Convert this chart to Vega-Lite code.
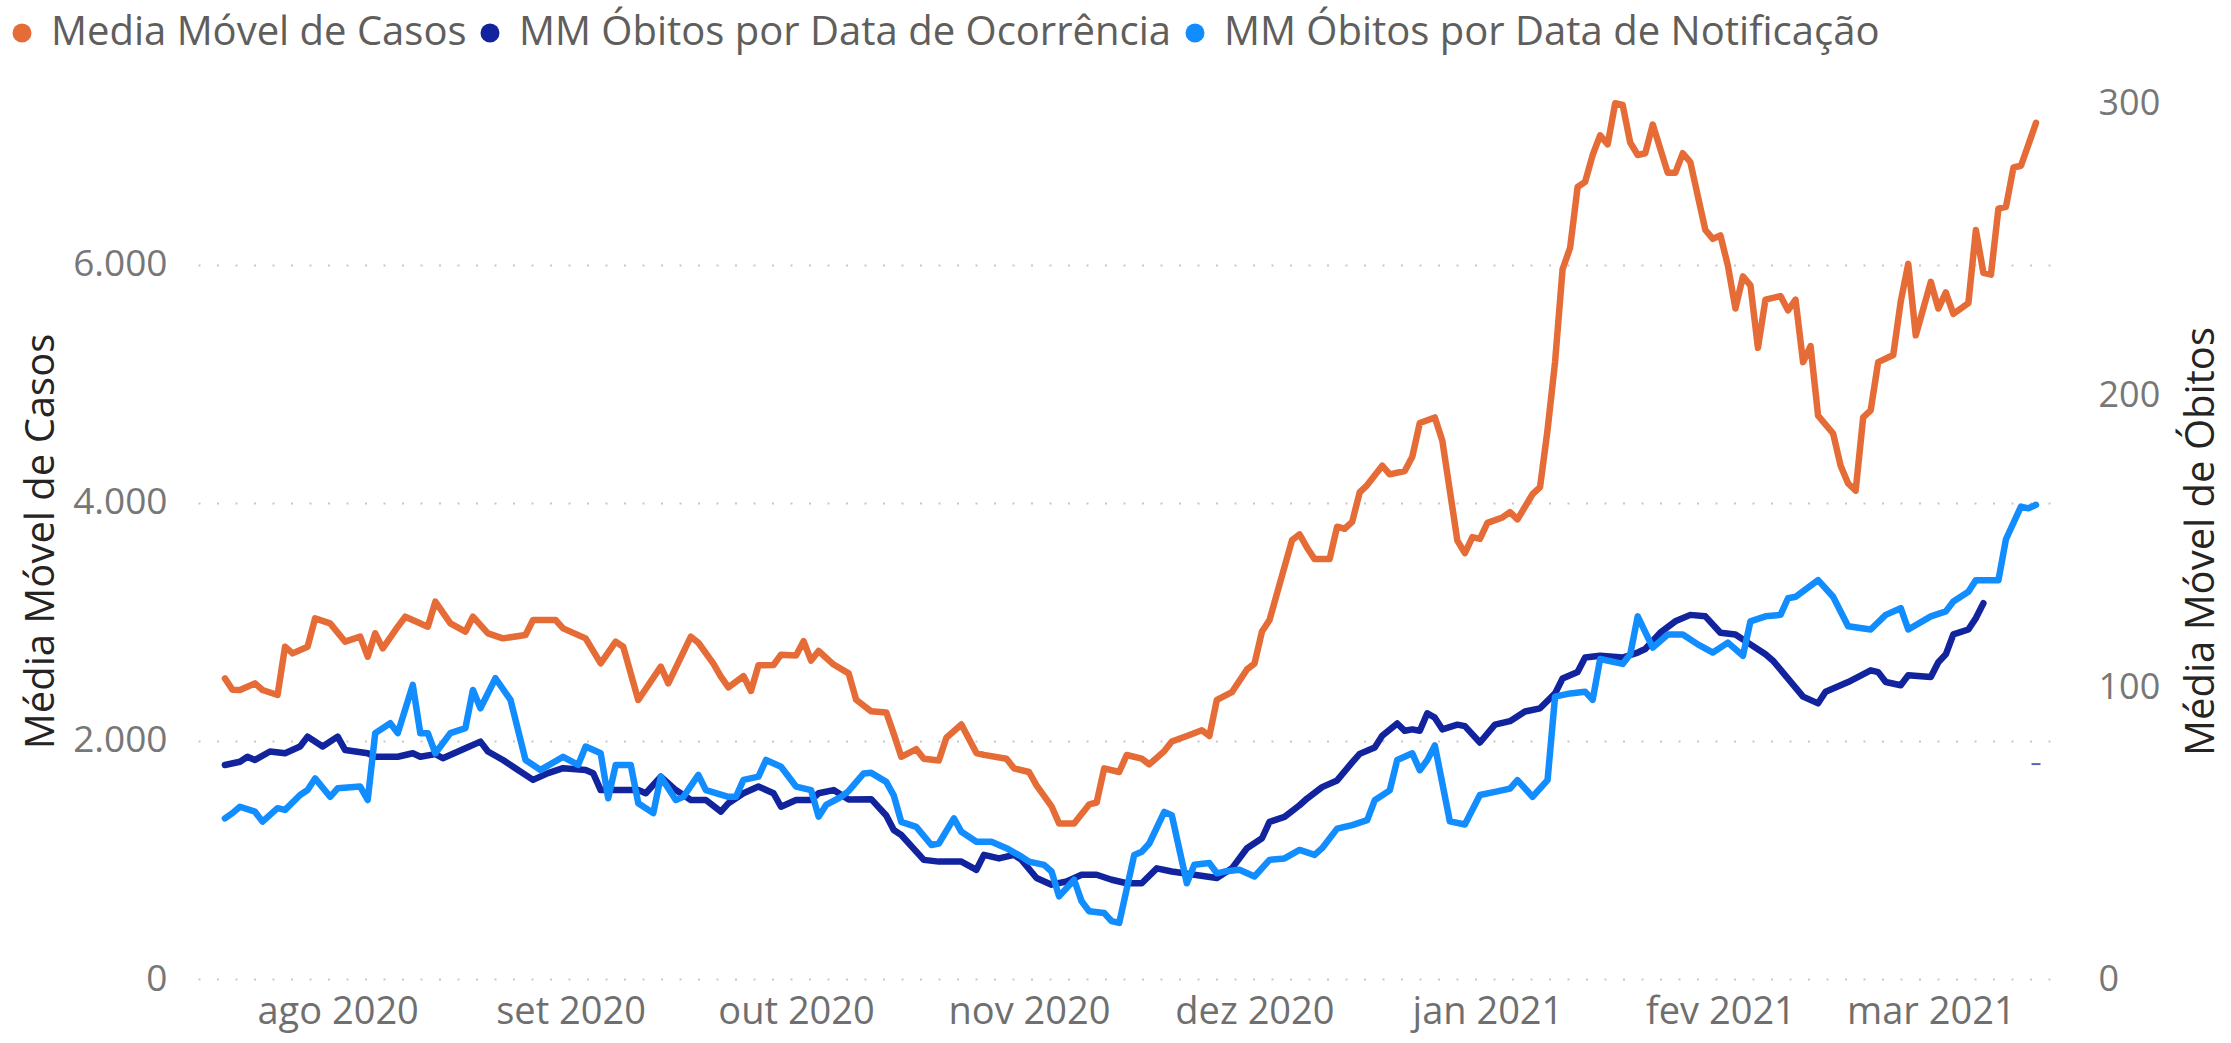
{
"$schema": "https://vega.github.io/schema/vega-lite/v6.json",
"autosize": {"type": "none"},
"padding": {"left": 198, "top": 103, "right": 169, "bottom": 64},
"width": 1864,
"height": 876,
"background": "white",
"config": {"view": {"stroke": null}, "font": "Open Sans"},
"datasets": {
"casos": [
{"d":"2020-07-17","v":2526},{"d":"2020-07-18","v":2430},{"d":"2020-07-19","v":2428},{"d":"2020-07-21","v":2484},{"d":"2020-07-22","v":2428},{"d":"2020-07-24","v":2386},{"d":"2020-07-25","v":2792},{"d":"2020-07-26","v":2736},{"d":"2020-07-28","v":2792},{"d":"2020-07-29","v":3030},{"d":"2020-07-31","v":2988},
{"d":"2020-08-02","v":2834},{"d":"2020-08-04","v":2876},{"d":"2020-08-05","v":2708},{"d":"2020-08-06","v":2904},{"d":"2020-08-07","v":2778},{"d":"2020-08-09","v":2960},{"d":"2020-08-10","v":3044},{"d":"2020-08-13","v":2960},{"d":"2020-08-14","v":3170},{"d":"2020-08-16","v":2988},{"d":"2020-08-18","v":2918},{"d":"2020-08-19","v":3044},{"d":"2020-08-21","v":2904},{"d":"2020-08-23","v":2862},{"d":"2020-08-26","v":2890},{"d":"2020-08-27","v":3016},{"d":"2020-08-30","v":3016},{"d":"2020-08-31","v":2946},
{"d":"2020-09-03","v":2862},{"d":"2020-09-05","v":2652},{"d":"2020-09-07","v":2834},{"d":"2020-09-08","v":2792},{"d":"2020-09-10","v":2344},{"d":"2020-09-13","v":2624},{"d":"2020-09-14","v":2484},{"d":"2020-09-17","v":2876},{"d":"2020-09-18","v":2825},{"d":"2020-09-20","v":2650},{"d":"2020-09-21","v":2540},{"d":"2020-09-22","v":2450},{"d":"2020-09-24","v":2545},{"d":"2020-09-25","v":2420},{"d":"2020-09-26","v":2636},{"d":"2020-09-28","v":2638},{"d":"2020-09-29","v":2725},
{"d":"2020-10-01","v":2718},{"d":"2020-10-02","v":2838},{"d":"2020-10-03","v":2675},{"d":"2020-10-04","v":2756},{"d":"2020-10-06","v":2642},{"d":"2020-10-08","v":2568},{"d":"2020-10-09","v":2346},{"d":"2020-10-11","v":2249},{"d":"2020-10-13","v":2240},{"d":"2020-10-14","v":2060},{"d":"2020-10-15","v":1867},{"d":"2020-10-17","v":1931},{"d":"2020-10-18","v":1851},{"d":"2020-10-20","v":1835},{"d":"2020-10-21","v":2027},{"d":"2020-10-23","v":2138},{"d":"2020-10-25","v":1899},{"d":"2020-10-26","v":1883},{"d":"2020-10-29","v":1851},{"d":"2020-10-30","v":1770},
{"d":"2020-11-01","v":1739},{"d":"2020-11-02","v":1627},{"d":"2020-11-04","v":1451},{"d":"2020-11-05","v":1307},{"d":"2020-11-07","v":1307},{"d":"2020-11-09","v":1467},{"d":"2020-11-10","v":1483},{"d":"2020-11-11","v":1770},{"d":"2020-11-13","v":1739},{"d":"2020-11-14","v":1882},{"d":"2020-11-16","v":1851},{"d":"2020-11-17","v":1803},{"d":"2020-11-19","v":1915},{"d":"2020-11-20","v":1995},{"d":"2020-11-22","v":2042},{"d":"2020-11-24","v":2090},{"d":"2020-11-25","v":2042},{"d":"2020-11-26","v":2346},{"d":"2020-11-28","v":2410},{"d":"2020-11-30","v":2601},
{"d":"2020-12-01","v":2649},{"d":"2020-12-02","v":2920},{"d":"2020-12-03","v":3016},{"d":"2020-12-04","v":3240},{"d":"2020-12-06","v":3688},{"d":"2020-12-07","v":3735},{"d":"2020-12-08","v":3624},{"d":"2020-12-09","v":3528},{"d":"2020-12-11","v":3528},{"d":"2020-12-12","v":3800},{"d":"2020-12-13","v":3783},{"d":"2020-12-14","v":3840},{"d":"2020-12-15","v":4088},{"d":"2020-12-16","v":4150},{"d":"2020-12-18","v":4313},{"d":"2020-12-19","v":4240},{"d":"2020-12-21","v":4268},{"d":"2020-12-22","v":4388},{"d":"2020-12-23","v":4672},{"d":"2020-12-25","v":4718},{"d":"2020-12-26","v":4523},{"d":"2020-12-27","v":4103},{"d":"2020-12-28","v":3683},{"d":"2020-12-29","v":3578},{"d":"2020-12-30","v":3713},{"d":"2020-12-31","v":3698},
{"d":"2021-01-01","v":3832},{"d":"2021-01-03","v":3878},{"d":"2021-01-04","v":3923},{"d":"2021-01-05","v":3862},{"d":"2021-01-07","v":4073},{"d":"2021-01-08","v":4133},{"d":"2021-01-09","v":4613},{"d":"2021-01-10","v":5183},{"d":"2021-01-11","v":5963},{"d":"2021-01-12","v":6143},{"d":"2021-01-13","v":6654},{"d":"2021-01-14","v":6698},{"d":"2021-01-15","v":6923},{"d":"2021-01-16","v":7088},{"d":"2021-01-17","v":7013},{"d":"2021-01-18","v":7358},{"d":"2021-01-19","v":7343},{"d":"2021-01-20","v":7028},{"d":"2021-01-21","v":6923},{"d":"2021-01-22","v":6938},{"d":"2021-01-23","v":7179},{"d":"2021-01-25","v":6773},{"d":"2021-01-26","v":6773},{"d":"2021-01-27","v":6938},{"d":"2021-01-28","v":6863},{"d":"2021-01-30","v":6293},{"d":"2021-01-31","v":6218},
{"d":"2021-02-01","v":6248},{"d":"2021-02-02","v":5993},{"d":"2021-02-03","v":5633},{"d":"2021-02-04","v":5903},{"d":"2021-02-05","v":5828},{"d":"2021-02-06","v":5303},{"d":"2021-02-07","v":5708},{"d":"2021-02-09","v":5738},{"d":"2021-02-10","v":5618},{"d":"2021-02-11","v":5708},{"d":"2021-02-12","v":5183},{"d":"2021-02-13","v":5318},{"d":"2021-02-14","v":4733},{"d":"2021-02-16","v":4583},{"d":"2021-02-17","v":4313},{"d":"2021-02-18","v":4163},{"d":"2021-02-19","v":4103},{"d":"2021-02-20","v":4718},{"d":"2021-02-21","v":4778},{"d":"2021-02-22","v":5183},{"d":"2021-02-24","v":5243},{"d":"2021-02-25","v":5693},{"d":"2021-02-26","v":6008},{"d":"2021-02-27","v":5408},
{"d":"2021-03-01","v":5858},{"d":"2021-03-02","v":5633},{"d":"2021-03-03","v":5768},{"d":"2021-03-04","v":5588},{"d":"2021-03-06","v":5678},{"d":"2021-03-07","v":6293},{"d":"2021-03-08","v":5933},{"d":"2021-03-09","v":5918},{"d":"2021-03-10","v":6473},{"d":"2021-03-11","v":6488},{"d":"2021-03-12","v":6818},{"d":"2021-03-13","v":6833},{"d":"2021-03-14","v":7013},{"d":"2021-03-15","v":7193}
],
"ocorr": [
{"d":"2020-07-17","v":73.3},{"d":"2020-07-19","v":74.4},{"d":"2020-07-20","v":76.1},{"d":"2020-07-21","v":75},{"d":"2020-07-23","v":77.9},{"d":"2020-07-25","v":77.3},{"d":"2020-07-27","v":79.6},{"d":"2020-07-28","v":83},{"d":"2020-07-30","v":79.6},
{"d":"2020-08-01","v":83},{"d":"2020-08-02","v":78.4},{"d":"2020-08-05","v":77.3},{"d":"2020-08-06","v":76.1},{"d":"2020-08-09","v":76.1},{"d":"2020-08-11","v":77.3},{"d":"2020-08-12","v":76.1},{"d":"2020-08-14","v":77},{"d":"2020-08-15","v":75.6},{"d":"2020-08-18","v":79},{"d":"2020-08-20","v":81.3},{"d":"2020-08-21","v":77.9},{"d":"2020-08-23","v":75},{"d":"2020-08-25","v":71.6},{"d":"2020-08-27","v":68.2},{"d":"2020-08-29","v":70.5},{"d":"2020-08-31","v":72.2},
{"d":"2020-09-03","v":71.6},{"d":"2020-09-04","v":70.5},{"d":"2020-09-05","v":64.7},{"d":"2020-09-07","v":64.7},{"d":"2020-09-10","v":64.7},{"d":"2020-09-11","v":63.6},{"d":"2020-09-13","v":69.3},{"d":"2020-09-15","v":64.7},{"d":"2020-09-17","v":61.3},{"d":"2020-09-19","v":61.3},{"d":"2020-09-21","v":57.3},{"d":"2020-09-22","v":60.2},{"d":"2020-09-24","v":63.6},{"d":"2020-09-26","v":65.9},{"d":"2020-09-28","v":63.6},{"d":"2020-09-29","v":59},
{"d":"2020-10-01","v":61.3},{"d":"2020-10-03","v":61.3},{"d":"2020-10-04","v":63.6},{"d":"2020-10-06","v":64.7},{"d":"2020-10-08","v":61.5},{"d":"2020-10-11","v":61.6},{"d":"2020-10-13","v":56},{"d":"2020-10-14","v":51},{"d":"2020-10-15","v":49.3},{"d":"2020-10-18","v":40.8},{"d":"2020-10-20","v":40.2},{"d":"2020-10-23","v":40.2},{"d":"2020-10-25","v":37.4},{"d":"2020-10-26","v":42.5},{"d":"2020-10-28","v":41.3},{"d":"2020-10-30","v":42.5},{"d":"2020-10-31","v":40.8},
{"d":"2020-11-02","v":34.6},{"d":"2020-11-04","v":32.3},{"d":"2020-11-06","v":33.4},{"d":"2020-11-08","v":35.7},{"d":"2020-11-10","v":35.7},{"d":"2020-11-12","v":34},{"d":"2020-11-14","v":32.8},{"d":"2020-11-16","v":32.8},{"d":"2020-11-18","v":37.9},{"d":"2020-11-20","v":36.8},{"d":"2020-11-23","v":35.7},{"d":"2020-11-26","v":34.6},{"d":"2020-11-28","v":37.9},{"d":"2020-11-30","v":44.8},
{"d":"2020-12-02","v":48.2},{"d":"2020-12-03","v":53.8},{"d":"2020-12-05","v":55.5},{"d":"2020-12-07","v":59.5},{"d":"2020-12-08","v":61.8},{"d":"2020-12-10","v":65.7},{"d":"2020-12-12","v":68},{"d":"2020-12-14","v":74.2},{"d":"2020-12-15","v":77.1},{"d":"2020-12-17","v":79.3},{"d":"2020-12-18","v":83.3},{"d":"2020-12-20","v":87.5},{"d":"2020-12-21","v":85},{"d":"2020-12-22","v":85.5},{"d":"2020-12-23","v":85},{"d":"2020-12-24","v":91},{"d":"2020-12-25","v":89.5},{"d":"2020-12-26","v":85.5},{"d":"2020-12-28","v":87.1},{"d":"2020-12-29","v":86.6},{"d":"2020-12-31","v":81},
{"d":"2021-01-02","v":87.1},{"d":"2021-01-04","v":88.3},{"d":"2021-01-06","v":91.6},{"d":"2021-01-08","v":92.7},{"d":"2021-01-10","v":97.8},{"d":"2021-01-11","v":102.9},{"d":"2021-01-13","v":105.1},{"d":"2021-01-14","v":110.1},{"d":"2021-01-16","v":110.7},{"d":"2021-01-19","v":110.1},{"d":"2021-01-21","v":111.8},{"d":"2021-01-22","v":113},{"d":"2021-01-24","v":118.6},{"d":"2021-01-26","v":122.5},{"d":"2021-01-28","v":124.7},{"d":"2021-01-30","v":124.2},
{"d":"2021-02-01","v":118.6},{"d":"2021-02-03","v":118},{"d":"2021-02-05","v":114.6},{"d":"2021-02-07","v":111.2},{"d":"2021-02-08","v":109},{"d":"2021-02-10","v":102.9},{"d":"2021-02-12","v":96.7},{"d":"2021-02-14","v":94.4},{"d":"2021-02-15","v":98.4},{"d":"2021-02-17","v":100.6},{"d":"2021-02-18","v":101.7},{"d":"2021-02-21","v":105.7},{"d":"2021-02-22","v":105.1},{"d":"2021-02-23","v":101.7},{"d":"2021-02-25","v":100.6},{"d":"2021-02-26","v":104},
{"d":"2021-03-01","v":103.4},{"d":"2021-03-02","v":108.5},{"d":"2021-03-03","v":111.2},{"d":"2021-03-04","v":118},{"d":"2021-03-06","v":119.7},{"d":"2021-03-07","v":123.6},{"d":"2021-03-08","v":128.7}
],
"notif": [
{"d":"2020-07-17","v":55},{"d":"2020-07-18","v":56.8},{"d":"2020-07-19","v":59},{"d":"2020-07-21","v":57.3},{"d":"2020-07-22","v":53.9},{"d":"2020-07-24","v":58.5},{"d":"2020-07-25","v":57.9},{"d":"2020-07-27","v":63},{"d":"2020-07-28","v":64.7},{"d":"2020-07-29","v":68.7},{"d":"2020-07-31","v":62.4},
{"d":"2020-08-01","v":65.3},{"d":"2020-08-04","v":65.9},{"d":"2020-08-05","v":61.3},{"d":"2020-08-06","v":84.2},{"d":"2020-08-08","v":87.6},{"d":"2020-08-09","v":84.2},{"d":"2020-08-11","v":100.7},{"d":"2020-08-12","v":84.2},{"d":"2020-08-13","v":84.2},{"d":"2020-08-14","v":77.3},{"d":"2020-08-16","v":84.2},{"d":"2020-08-18","v":85.9},{"d":"2020-08-19","v":99},{"d":"2020-08-20","v":92.7},{"d":"2020-08-22","v":103},{"d":"2020-08-24","v":95.6},{"d":"2020-08-26","v":75},{"d":"2020-08-28","v":71.6},{"d":"2020-08-31","v":76.1},
{"d":"2020-09-02","v":73.3},{"d":"2020-09-03","v":79.6},{"d":"2020-09-05","v":77.3},{"d":"2020-09-06","v":61.9},{"d":"2020-09-07","v":73.3},{"d":"2020-09-09","v":73.3},{"d":"2020-09-10","v":60.2},{"d":"2020-09-12","v":56.8},{"d":"2020-09-13","v":69.3},{"d":"2020-09-15","v":61.3},{"d":"2020-09-16","v":62.4},{"d":"2020-09-18","v":69.9},{"d":"2020-09-19","v":64.7},{"d":"2020-09-22","v":62.4},{"d":"2020-09-23","v":62.4},{"d":"2020-09-24","v":68.2},{"d":"2020-09-26","v":69.3},{"d":"2020-09-27","v":75},{"d":"2020-09-29","v":72.7},
{"d":"2020-10-01","v":65.9},{"d":"2020-10-03","v":64.7},{"d":"2020-10-04","v":55.6},{"d":"2020-10-05","v":59.6},{"d":"2020-10-07","v":62.4},{"d":"2020-10-08","v":64.4},{"d":"2020-10-10","v":70.4},{"d":"2020-10-11","v":70.6},{"d":"2020-10-13","v":67.5},{"d":"2020-10-14","v":62.9},{"d":"2020-10-15","v":53.8},{"d":"2020-10-17","v":52.1},{"d":"2020-10-19","v":45.9},{"d":"2020-10-20","v":46.4},{"d":"2020-10-22","v":55},{"d":"2020-10-23","v":50.4},{"d":"2020-10-25","v":47},{"d":"2020-10-27","v":47},{"d":"2020-10-29","v":44.8},{"d":"2020-10-31","v":41.9},
{"d":"2020-11-01","v":40.2},{"d":"2020-11-03","v":39.1},{"d":"2020-11-04","v":36.8},{"d":"2020-11-05","v":28.3},{"d":"2020-11-07","v":34},{"d":"2020-11-08","v":26.6},{"d":"2020-11-09","v":23.2},{"d":"2020-11-11","v":22.6},{"d":"2020-11-12","v":19.8},{"d":"2020-11-13","v":19.2},{"d":"2020-11-15","v":42.5},{"d":"2020-11-16","v":43.6},{"d":"2020-11-17","v":46.4},{"d":"2020-11-19","v":57.2},{"d":"2020-11-20","v":56.1},{"d":"2020-11-22","v":32.8},{"d":"2020-11-23","v":39.1},{"d":"2020-11-25","v":39.7},{"d":"2020-11-26","v":36.2},{"d":"2020-11-27","v":36.8},{"d":"2020-11-29","v":37.4},
{"d":"2020-12-01","v":35.1},{"d":"2020-12-03","v":40.8},{"d":"2020-12-05","v":41.3},{"d":"2020-12-07","v":44.2},{"d":"2020-12-09","v":42.5},{"d":"2020-12-10","v":44.8},{"d":"2020-12-12","v":51.5},{"d":"2020-12-14","v":52.7},{"d":"2020-12-16","v":54.4},{"d":"2020-12-17","v":61.2},{"d":"2020-12-19","v":64.6},{"d":"2020-12-20","v":75},{"d":"2020-12-22","v":77.3},{"d":"2020-12-23","v":71.5},{"d":"2020-12-24","v":75},{"d":"2020-12-25","v":80},{"d":"2020-12-27","v":54},{"d":"2020-12-29","v":52.9},{"d":"2020-12-31","v":63},
{"d":"2021-01-02","v":64.1},{"d":"2021-01-04","v":65.2},{"d":"2021-01-05","v":68.1},{"d":"2021-01-07","v":62.4},{"d":"2021-01-09","v":68.1},{"d":"2021-01-10","v":96.7},{"d":"2021-01-12","v":97.8},{"d":"2021-01-14","v":98.4},{"d":"2021-01-15","v":95.6},{"d":"2021-01-16","v":109.6},{"d":"2021-01-19","v":107.9},{"d":"2021-01-20","v":111.2},{"d":"2021-01-21","v":124.2},{"d":"2021-01-23","v":113.5},{"d":"2021-01-25","v":118},{"d":"2021-01-27","v":118},{"d":"2021-01-29","v":114.6},{"d":"2021-01-31","v":111.8},
{"d":"2021-02-02","v":115.2},{"d":"2021-02-04","v":110.7},{"d":"2021-02-05","v":122.5},{"d":"2021-02-07","v":124.2},{"d":"2021-02-09","v":124.7},{"d":"2021-02-10","v":130.4},{"d":"2021-02-11","v":130.9},{"d":"2021-02-14","v":136.6},{"d":"2021-02-16","v":130.9},{"d":"2021-02-18","v":120.8},{"d":"2021-02-21","v":119.7},{"d":"2021-02-23","v":124.7},{"d":"2021-02-25","v":127},{"d":"2021-02-26","v":119.7},
{"d":"2021-03-01","v":124.2},{"d":"2021-03-03","v":125.9},{"d":"2021-03-04","v":129.3},{"d":"2021-03-06","v":132.6},{"d":"2021-03-07","v":136.6},{"d":"2021-03-10","v":136.6},{"d":"2021-03-11","v":150.6},{"d":"2021-03-13","v":161.8},{"d":"2021-03-14","v":161.2},{"d":"2021-03-15","v":162.4}
],
"ocorrFim": [{"d":"2021-03-15","v":73.6}]
},
"encoding": {
"x": {"field": "d", "type": "temporal", "title": null,
"scale": {"domain": [{"year": 2020, "month": 7, "date": 13, "hours": 10}, {"year": 2021, "month": 3, "date": 18, "hours": 11}]},
"axis": {"tickCount": {"interval": "month", "step": 1}, "labelExpr": "['jan','fev','mar','abr','mai','jun','jul','ago','set','out','nov','dez'][month(datum.value)] + ' ' + year(datum.value)", "grid": false, "domain": false, "ticks": false, "labelFont": "Open Sans", "labelFontSize": 38, "labelColor": "#6f6f6f", "labelPadding": 14, "labelOverlap": false, "labelFlush": false}}
},
"layer": [
{"data": {"name": "casos"}, "mark": {"type": "line", "strokeWidth": 6.5, "strokeJoin": "round", "strokeCap": "round"},
"encoding": {
"y": {"field": "v", "type": "quantitative", "scale": {"domain": [0, 7360], "nice": false},
"axis": {"orient": "left", "title": "Média Móvel de Casos", "values": [0, 2000, 4000, 6000], "labelExpr": "replace(format(datum.value, ','), ',', '.')", "grid": true, "gridDash": [2, 16.5], "gridColor": "#c8c8c8", "gridWidth": 2, "domain": false, "ticks": false, "labelPadding": 31, "labelFont": "Open Sans", "labelFontSize": 37, "labelColor": "#777777", "titleFont": "Open Sans", "titleFontSize": 40, "titleFontWeight": "normal", "titleColor": "#252423", "titleX": -137, "titleY": 438, "titleAngle": -90, "titleAlign": "center", "titleBaseline": "bottom"}},
"color": {"datum": "Media Móvel de Casos", "type": "nominal",
"scale": {"domain": ["Media Móvel de Casos", "MM Óbitos por Data de Ocorrência", "MM Óbitos por Data de Notificação"], "range": ["#E66C37", "#12239E", "#118DFF"]},
"legend": {"title": null, "orient": "none", "legendX": -196, "legendY": -90, "direction": "horizontal", "symbolType": "circle", "symbolSize": 361, "symbolStrokeWidth": 0, "labelFont": "Open Sans", "labelFontSize": 40, "labelColor": "#605E5C", "labelOffset": 9, "columnPadding": 3, "labelLimit": 1000,
"encode": {"symbols": {"update": {"fill": {"scale": "color", "field": "value"}, "opacity": {"value": 1}}}}}}
}},
{"encoding": {
"y": {"field": "v", "type": "quantitative", "scale": {"domain": [0, 300], "nice": false},
"axis": {"orient": "right", "title": "Média Móvel de Óbitos", "values": [0, 100, 200, 300], "grid": false, "domain": false, "ticks": false, "labelPadding": 36, "labelFont": "Open Sans", "labelFontSize": 36, "labelColor": "#777777", "titleFont": "Open Sans", "titleFontSize": 40, "titleFontWeight": "normal", "titleColor": "#252423", "titleX": 119, "titleY": 438, "titleAngle": 270, "titleAlign": "center", "titleBaseline": "top"}}
},
"layer": [
{"data": {"name": "ocorr"}, "mark": {"type": "line", "strokeWidth": 6.5, "strokeJoin": "round", "strokeCap": "round"},
"encoding": {"color": {"datum": "MM Óbitos por Data de Ocorrência", "type": "nominal"}}},
{"data": {"name": "notif"}, "mark": {"type": "line", "strokeWidth": 6.5, "strokeJoin": "round", "strokeCap": "round"},
"encoding": {"color": {"datum": "MM Óbitos por Data de Notificação", "type": "nominal"}}},
{"data": {"name": "ocorrFim"}, "mark": {"type": "tick", "orient": "horizontal", "size": 9, "thickness": 2, "color": "#12239E"}}
]}
],
"resolve": {"scale": {"y": "independent"}, "axis": {"y": "independent"}}
}
